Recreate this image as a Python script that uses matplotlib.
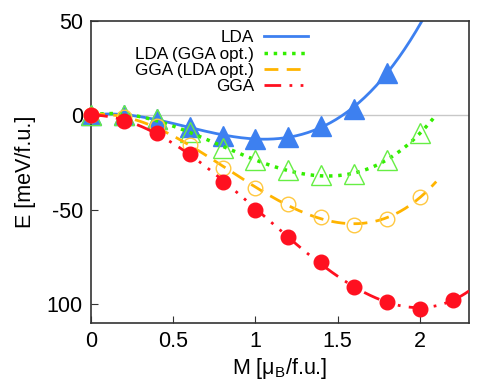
import matplotlib
matplotlib.use("Agg")
from matplotlib import pyplot as plt
import numpy as np

plt.rcParams["font.family"] = ["Liberation Sans", "DejaVu Sans"]
plt.rcParams["mathtext.fontset"] = "custom"
plt.rcParams["mathtext.rm"] = "Liberation Sans"

m = np.array([0.0, 0.2, 0.4, 0.6, 0.8, 1.0, 1.2, 1.4, 1.6, 1.8, 2.0, 2.2])

lda = [0, 0, -2, -6.5, -11, -12.6, -11.7, -5.6, 3.5, 22.5]
lda_ggaopt = [0, 0, -2.3, -8.8, -17.5, -24, -29, -31.5, -31, -24, -9.5]
gga_ldaopt = [0, -1, -6, -16, -28, -38.6, -47, -54, -58, -55, -43.3]
gga = [0, -3, -9.3, -20.5, -35.4, -50, -64.6, -78, -91, -99, -102.6, -97.7]

labels = ["LDA", "LDA (GGA opt.)", "GGA (LDA opt.)", "GGA"]
colors = ["#3d80f0", "#33ee00", "#ffb400", "#ff1020"]
face = ["#3d80f0", "none", "none", "#ff1020"]
edge = ["#3d80f0", "#66ee44", "#ffc840", "#ff1020"]
markers = ["^", "^", "o", "o"]
msize = [14, 14, 10.5, 10.5]
styles = ["-", ":", (0, (5, 3)), (0, (6, 3, 1, 3, 1, 3))]
line_end = [2.3, 2.1, 2.1, 2.3]
degree = [4, 4, 4, 4]

fig = plt.figure(figsize=(4.98, 3.83), dpi=100)
ax = fig.add_axes([0.183, 0.157, 0.759, 0.789])

ax.axhline(0, color="#c8c8c8", lw=1, zorder=0)

for i, y in enumerate([lda, lda_ggaopt, gga_ldaopt, gga]):
    x = m[:len(y)]
    p = np.polyfit(x, y, degree[i])
    xf = np.linspace(0, line_end[i], 200)
    ax.plot(xf, np.polyval(p, xf), color=colors[i], ls=styles[i],
            lw=2 if i != 1 else 2.5, label=labels[i], zorder=2 + i)
    ax.plot(x, y, ls="none", marker=markers[i], ms=msize[i],
            mfc=face[i], mec=edge[i], mew=1, zorder=2 + i, clip_on=False)

ax.set_xlim(0, 2.3)
ax.set_ylim(-110, 50)
ax.set_xticks([0, 0.5, 1, 1.5, 2])
ax.set_xticklabels(["0", "0.5", "1", "1.5", "2"])
ax.set_yticks([50, 0, -50, -100])
ax.set_yticklabels(["50", "0", "-50", "100"])
ax.tick_params(direction="in", labelsize=15.5, length=5, pad=6, color="#333333")
for s in ax.spines.values():
    s.set_color("#333333")
    s.set_linewidth(1.2)

ax.set_xlabel(r"M [μ$_\mathrm{B}$/f.u.]", fontsize=15.5, labelpad=3)
ax.set_ylabel("E [meV/f.u.]", fontsize=15.5, labelpad=8)

leg = ax.legend(loc="upper right", bbox_to_anchor=(0.575, 0.968), frameon=False,
                fontsize=12.3, markerfirst=False, handlelength=2.6,
                labelspacing=0.08, borderaxespad=0, borderpad=0,
                handletextpad=0.6)
for t in leg.get_texts():
    t.set_ha("right")

fig.savefig("out.png", dpi=100)
